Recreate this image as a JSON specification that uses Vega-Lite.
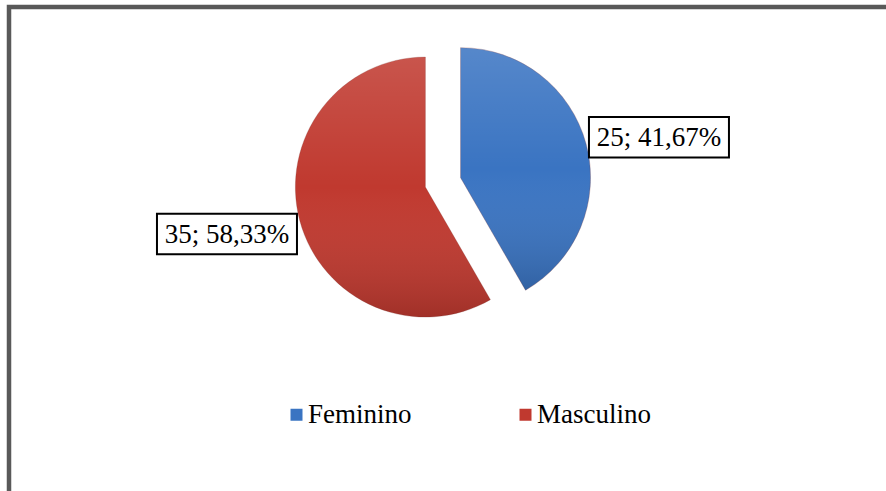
{
  "$schema": "https://vega.github.io/schema/vega-lite/v6.json",
  "width": 886,
  "height": 491,
  "padding": {"left": 9, "top": 7, "right": 0, "bottom": 0},
  "autosize": {"type": "none"},
  "background": "white",
  "config": {
    "view": {"stroke": "#595959", "strokeWidth": 4.5}
  },
  "data": {
    "values": [
      {"sexo": "Feminino", "n": 25, "rotulo": "25; 41,67%"},
      {"sexo": "Masculino", "n": 35, "rotulo": "35; 58,33%"}
    ]
  },
  "transform": [
    {"stack": "n", "groupby": [], "sort": [{"field": "sexo"}], "offset": "normalize", "as": ["t0", "t1"]},
    {"calculate": "(datum.t0 + datum.t1) * PI", "as": "meio"},
    {"calculate": "0.14 * sin(datum.meio)", "as": "cx"},
    {"calculate": "0.14 * cos(datum.meio)", "as": "cy"},
    {"calculate": "1.72 * sin(datum.meio)", "as": "lx"},
    {"calculate": "1.44 * cos(datum.meio) - 0.025", "as": "ly"}
  ],
  "encoding": {
    "x": {"field": "cx", "type": "quantitative", "axis": null, "scale": {"domain": [-3.338, 3.477], "nice": false, "zero": false}},
    "y": {"field": "cy", "type": "quantitative", "axis": null, "scale": {"domain": [-2.43, 1.35], "nice": false, "zero": false}}
  },
  "layer": [
    {
      "mark": {"type": "arc", "radius": 130, "stroke": "#7a2a26", "strokeOpacity": 0.25, "strokeWidth": 1},
      "encoding": {
        "theta": {"field": "t0", "type": "quantitative", "scale": {"domain": [0, 1]}, "stack": null},
        "theta2": {"field": "t1"},
        "color": {
          "field": "sexo",
          "type": "nominal",
          "scale": {"domain": ["Feminino", "Masculino"], "range": ["#3a74c2", "#c0392f"]},
          "legend": {
            "title": null,
            "orient": "none",
            "direction": "horizontal",
            "legendX": 274,
            "legendY": 394,
            "padding": 0,
            "labelFont": "Liberation Serif",
            "labelFontSize": 27,
            "labelColor": "#000000",
            "labelOffset": -2,
            "symbolType": "square",
            "symbolSize": 144,
            "symbolStrokeWidth": 0,
            "columnPadding": 100
          }
        }
      }
    },
    {
      "mark": {
        "type": "arc",
        "radius": 130,
        "fill": {
          "gradient": "linear",
          "x1": 0, "y1": 0, "x2": 0, "y2": 1,
          "stops": [
            {"offset": 0, "color": "rgba(255,255,255,0.14)"},
            {"offset": 0.5, "color": "rgba(255,255,255,0)"},
            {"offset": 1, "color": "rgba(0,0,0,0.16)"}
          ]
        }
      },
      "encoding": {
        "theta": {"field": "t0", "type": "quantitative", "scale": {"domain": [0, 1]}, "stack": null},
        "theta2": {"field": "t1"}
      }
    },
    {
      "mark": {
        "type": "point",
        "shape": "M-1,-0.29H1V0.29H-1Z",
        "size": 19600,
        "filled": true,
        "fill": "white",
        "fillOpacity": 1,
        "opacity": 1,
        "stroke": "black",
        "strokeWidth": 2
      },
      "encoding": {
        "x": {"field": "lx", "type": "quantitative"},
        "y": {"field": "ly", "type": "quantitative"}
      }
    },
    {
      "mark": {"type": "text", "font": "Liberation Serif", "fontSize": 27, "color": "black", "align": "center", "baseline": "middle", "dy": 1},
      "encoding": {
        "x": {"field": "lx", "type": "quantitative"},
        "y": {"field": "ly", "type": "quantitative"},
        "text": {"field": "rotulo"}
      }
    }
  ]
}
